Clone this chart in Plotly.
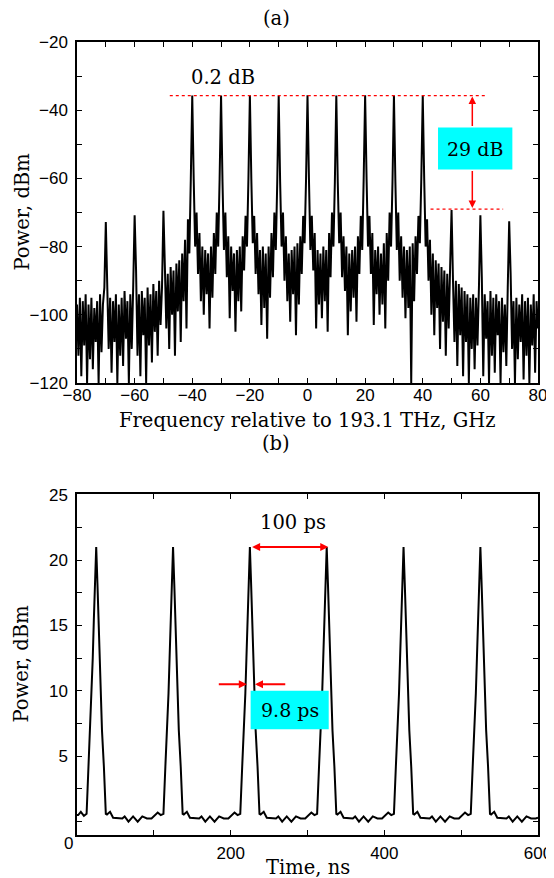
import numpy as np
import plotly.graph_objects as go

# (a) spectrum, one value every 0.5 GHz from -80 to +80 GHz
spec_f0 = -80.0
spec_df = 0.5
spec_power = [
    -97, -112, -95, -118, -96, -109, -94, -120, -97, -113, -95, -116, -98, -108, -96, -120, -94, -111, -97, -92,      # -80
    -72.8, -88, -110, -95, -117, -96, -108, -94, -120, -97, -112, -95, -115, -93, -107, -96, -120, -94, -110, -92,   # -70
    -70.8, -87, -112, -94, -118, -93, -106, -95, -120, -92, -109, -94, -114, -91, -105, -93, -112, -90, -103, -92,   # -60
    -69.5, -86, -104, -88, -110, -86, -100, -87, -112, -85, -99, -84, -108, -82, -96, -78, -104, -72, -82, -60,      # -50
    -35.7, -60, -80, -70, -88, -76, -96, -80, -100, -81, -94, -82, -104, -80, -95, -76, -88, -70, -80, -60,          # -40
    -35.7, -61, -81, -70, -89, -77, -101, -80, -93, -82, -105, -81, -96, -80, -99, -77, -87, -71, -80, -60,          # -30
    -35.6, -60, -79, -71, -88, -76, -94, -81, -103, -80, -98, -82, -107, -80, -95, -76, -89, -70, -81, -61,          # -20
    -35.7, -61, -80, -70, -90, -77, -96, -82, -102, -81, -94, -80, -106, -79, -97, -77, -88, -71, -79, -60,          # -10
    -35.6, -60, -81, -71, -87, -76, -104, -81, -97, -82, -101, -80, -96, -81, -105, -76, -89, -70, -80, -61,         # 0
    -35.7, -61, -79, -70, -89, -77, -93, -80, -106, -82, -99, -81, -95, -80, -102, -77, -88, -71, -81, -60,          # 10
    -35.6, -60, -80, -71, -88, -76, -103, -81, -94, -80, -100, -82, -97, -79, -104, -76, -90, -70, -80, -61,         # 20
    -35.7, -61, -81, -70, -90, -77, -95, -80, -101, -81, -98, -80, -120, -79, -96, -77, -88, -71, -79, -60,          # 30
    -35.7, -60, -80, -72, -90, -78, -100, -82, -106, -84, -98, -85, -110, -86, -102, -87, -112, -88, -104, -86,      # 40
    -69.3, -90, -108, -90, -115, -91, -106, -92, -118, -93, -108, -94, -120, -95, -110, -94, -116, -95, -109, -92,   # 50
    -70.8, -89, -118, -94, -107, -96, -120, -93, -112, -95, -117, -94, -106, -96, -120, -95, -111, -97, -115, -92,   # 60
    -72.6, -88, -110, -96, -120, -95, -113, -97, -108, -94, -119, -96, -112, -95, -120, -97, -109, -94, -117, -96,   # 70
    -104,
]
spec_freq = spec_f0 + spec_df * np.arange(len(spec_power))

# (b) pulse train
pulse_t = [
    0, 1.5, 5, 9,
    12.5, 15, 17.5, 19.1, 20.5, 21.9, 23.4, 25, 26.6, 28.1, 29.5, 30.9, 32.5, 35, 37.5,
    39, 43, 47, 53, 59, 62, 67, 73, 79, 85, 91, 97, 105, 109,
    112.5, 115, 117.5, 119.1, 120.5, 121.9, 123.4, 125, 126.6, 128.1, 129.5, 130.9, 132.5, 135, 137.5,
    139, 143, 147, 153, 159, 162, 167, 173, 179, 185, 191, 197, 205, 209,
    212.5, 215, 217.5, 219.1, 220.5, 221.9, 223.4, 225, 226.6, 228.1, 229.5, 230.9, 232.5, 235, 237.5,
    239, 243, 247, 253, 259, 262, 267, 273, 279, 285, 291, 297, 305, 309,
    312.5, 315, 317.5, 319.1, 320.5, 321.9, 323.4, 325, 326.6, 328.1, 329.5, 330.9, 332.5, 335, 337.5,
    339, 343, 347, 353, 359, 362, 367, 373, 379, 385, 391, 397, 405, 409,
    412.5, 415, 417.5, 419.1, 420.5, 421.9, 423.4, 425, 426.6, 428.1, 429.5, 430.9, 432.5, 435, 437.5,
    439, 443, 447, 453, 459, 462, 467, 473, 479, 485, 491, 497, 505, 509,
    512.5, 515, 517.5, 519.1, 520.5, 521.9, 523.4, 525, 526.6, 528.1, 529.5, 530.9, 532.5, 535, 537.5,
    539, 543, 547, 553, 559, 562, 567, 573, 579, 585, 591, 597, 600,
]
pulse_p = [
    0.5, 0.5, 0.75, 0.45,
    0.6, 4.2, 7.0, 9.8, 12.5, 15.4, 18.2, 21.0, 18.2, 15.4, 12.5, 9.8, 7.0, 4.2, 0.6,
    0.55, 0.75, 0.3, 0.25, 0.25, 0.4, 0.0, 0.4, 0.0, 0.4, 0.25, 0.25, 0.7, 0.5,
    0.6, 4.2, 7.0, 9.8, 12.5, 15.4, 18.2, 21.0, 18.2, 15.4, 12.5, 9.8, 7.0, 4.2, 0.6,
    0.55, 0.75, 0.3, 0.25, 0.25, 0.4, 0.0, 0.4, 0.0, 0.4, 0.25, 0.25, 0.7, 0.5,
    0.6, 4.2, 7.0, 9.8, 12.5, 15.4, 18.2, 21.0, 18.2, 15.4, 12.5, 9.8, 7.0, 4.2, 0.6,
    0.55, 0.75, 0.3, 0.25, 0.25, 0.4, 0.0, 0.4, 0.0, 0.4, 0.25, 0.25, 0.7, 0.5,
    0.6, 4.2, 7.0, 9.8, 12.5, 15.4, 18.2, 21.0, 18.2, 15.4, 12.5, 9.8, 7.0, 4.2, 0.6,
    0.55, 0.75, 0.3, 0.25, 0.25, 0.4, 0.0, 0.4, 0.0, 0.4, 0.25, 0.25, 0.7, 0.5,
    0.6, 4.2, 7.0, 9.8, 12.5, 15.4, 18.2, 21.0, 18.2, 15.4, 12.5, 9.8, 7.0, 4.2, 0.6,
    0.55, 0.75, 0.3, 0.25, 0.25, 0.4, 0.0, 0.4, 0.0, 0.4, 0.25, 0.25, 0.7, 0.5,
    0.6, 4.2, 7.0, 9.8, 12.5, 15.4, 18.2, 21.0, 18.2, 15.4, 12.5, 9.8, 7.0, 4.2, 0.6,
    0.55, 0.75, 0.3, 0.25, 0.25, 0.4, 0.0, 0.4, 0.0, 0.4, 0.25, 0.25, 0.3,
]

freq_ticks = [-80, -60, -40, -20, 0, 20, 40, 60, 80]
spec_ticks = [-120, -100, -80, -60, -40, -20]
time_ticks = [200, 400, 600]
pulse_ticks = [5, 10, 15, 20, 25]

# levels used by the marks on the figure
comb_top = -35.7      # flat comb level
comb_side = -69.0     # first suppressed line
pulse_peak = 21.0
fwhm_level = 10.5

RED = "#ff0000"
CYAN = "#00ffff"
SERIF = "DejaVu Serif"
SANS = "Liberation Sans Narrow, Liberation Sans, Arial"
TXT = 19.5

fig = go.Figure()
fig.add_trace(go.Scatter(x=spec_freq, y=spec_power, mode="lines",
                         line=dict(color="black", width=2), xaxis="x", yaxis="y"))
fig.add_trace(go.Scatter(x=pulse_t, y=pulse_p, mode="lines",
                         line=dict(color="black", width=2), xaxis="x2", yaxis="y2"))

axis_style = dict(showline=True, linecolor="black", linewidth=1.5, mirror="allticks",
                  ticks="inside", ticklen=5, tickcolor="black", showgrid=False, zeroline=False,
                  automargin=False,
                  tickfont=dict(family=SANS, size=17, color="black"))

# the page body adds an 8 px margin, so the figure is 8 px smaller on each side
fig.update_layout(
    width=546, height=870,
    margin=dict(l=69, r=16, t=34, b=43),
    paper_bgcolor="white", plot_bgcolor="white",
    showlegend=False,
    xaxis=dict(axis_style, domain=[0, 1], anchor="y", range=[-80, 80],
               tickvals=freq_ticks, minor=dict(dtick=10, tick0=0, ticks="inside", ticklen=5, tickcolor="black"),
               ticklabelstandoff=-4),
    yaxis=dict(axis_style, domain=[0.570, 1], anchor="x", range=[-120, -20],
               tickvals=spec_ticks, minor=dict(dtick=10, tick0=0, ticks="inside", ticklen=5, tickcolor="black"),
               ticklabelstandoff=4),
    xaxis2=dict(axis_style, domain=[0, 1], anchor="y2", range=[0, 600],
                tickvals=time_ticks, minor=dict(dtick=100, tick0=0, ticks="inside", ticklen=5, tickcolor="black"),
                ticklabelstandoff=2),
    yaxis2=dict(axis_style, domain=[0, 0.430], anchor="x2", range=[-1.02, 25.05],
                tickvals=pulse_ticks, minor=dict(dtick=2.5, tick0=0, ticks="inside", ticklen=5, tickcolor="black"),
                ticklabelstandoff=4),
)

# axis titles, panel labels and the lone corner zero (paper coordinates, centred)
title_font = dict(family=SERIF, size=TXT, color="black")
centred = dict(xref="paper", yref="paper", xanchor="center", yanchor="middle", showarrow=False)
fig.add_annotation(centred, x=0.5, y=0.5233, text="Frequency relative to 193.1 THz, GHz", font=title_font)
fig.add_annotation(centred, x=0.5, y=-0.0416, text="Time, ns", font=title_font)
fig.add_annotation(centred, x=-0.1193, y=0.785, text="Power, dBm", textangle=-90, font=title_font)
fig.add_annotation(centred, x=-0.1193, y=0.215, text="Power, dBm", textangle=-90, font=title_font)
fig.add_annotation(centred, x=0.432, y=1.0295, text="(a)", font=title_font)
fig.add_annotation(centred, x=0.432, y=0.4943, text="(b)", font=title_font)
fig.add_annotation(centred, x=-0.0195, y=-0.0101, text="0", font=dict(family=SANS, size=17, color="black"))

# panel (a) marks
fig.add_shape(type="line", xref="x", yref="y", x0=-47.8, x1=62.1, y0=comb_top, y1=comb_top,
              line=dict(color=RED, width=1.2, dash="dot"))
fig.add_shape(type="line", xref="x", yref="y", x0=42.7, x1=67.9, y0=comb_side, y1=comb_side,
              line=dict(color=RED, width=1.2, dash="dot"))
fig.add_annotation(xref="x", yref="y", axref="x", ayref="y", x=57.2, y=comb_top - 0.3, ax=57.2, ay=-45.1,
                   text="", showarrow=True, arrowhead=2, arrowsize=1, arrowwidth=1.5, arrowcolor=RED)
fig.add_annotation(xref="x", yref="y", axref="x", ayref="y", x=57.2, y=comb_side + 0.3, ax=57.2, ay=-57.4,
                   text="", showarrow=True, arrowhead=2, arrowsize=1, arrowwidth=1.5, arrowcolor=RED)
fig.add_shape(type="rect", xref="x", yref="y", x0=45.3, x1=71.1, y0=-57.4, y1=-45.1,
              fillcolor=CYAN, line=dict(width=0), layer="above")
fig.add_annotation(xref="x", yref="y", x=58.2, y=-51.3, text="29 dB", showarrow=False,
                   font=dict(family=SERIF, size=19, color="black"))
fig.add_annotation(xref="x", yref="y", x=-29.4, y=-30.3, text="0.2 dB", showarrow=False, font=title_font)

# panel (b) marks
fig.add_annotation(xref="x2", yref="y2", axref="x2", ayref="y2", x=327, y=pulse_peak, ax=226, ay=pulse_peak,
                   text="", showarrow=True, arrowside="end+start", arrowhead=2, arrowsize=0.8,
                   arrowwidth=2, arrowcolor=RED)
fig.add_annotation(xref="x2", yref="y2", x=281, y=22.9, text="100 ps", showarrow=False, font=title_font)
fig.add_annotation(xref="x2", yref="y2", axref="x2", ayref="y2", x=221, y=fwhm_level, ax=182.6, ay=fwhm_level,
                   text="", showarrow=True, arrowhead=2, arrowsize=0.8, arrowwidth=2, arrowcolor=RED)
fig.add_annotation(xref="x2", yref="y2", axref="x2", ayref="y2", x=231.7, y=fwhm_level, ax=273, ay=fwhm_level,
                   text="", showarrow=True, arrowhead=2, arrowsize=0.8, arrowwidth=2, arrowcolor=RED)
fig.add_shape(type="rect", xref="x2", yref="y2", x0=226, x1=327.6, y0=7.06, y1=10.0,
              fillcolor=CYAN, line=dict(width=0), layer="above")
fig.add_annotation(xref="x2", yref="y2", x=276.8, y=8.55, text="9.8 ps", showarrow=False,
                   font=dict(family=SERIF, size=19, color="black"))

fig.write_html("out.html")
